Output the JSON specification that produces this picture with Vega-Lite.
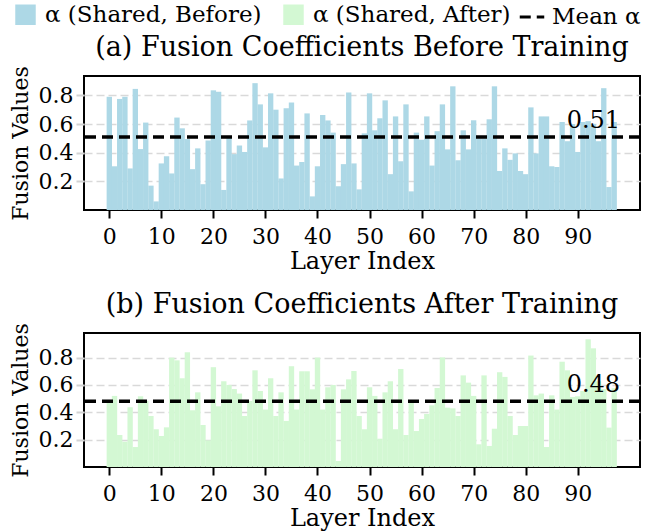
{
  "$schema": "https://vega.github.io/schema/vega-lite/v6.json",
  "padding": {"left": 8, "right": 5, "top": 3, "bottom": 0},
  "background": "white",
  "config": {
    "font": "DejaVu Serif",
    "view": {"stroke": "black", "strokeWidth": 2},
    "axis": {"labelFont": "DejaVu Serif", "titleFont": "DejaVu Serif", "labelFontSize": 22, "titleFontSize": 22, "titleFontWeight": "normal", "labelColor": "black", "titleColor": "black", "domain": false, "tickColor": "black", "tickWidth": 2, "tickSize": 8},
    "axisY": {"gridDash": [8, 4], "gridColor": "#d9d9d9", "gridWidth": 1.5, "tickColor": "#d3d3d3", "labelPadding": 3, "titlePadding": 6},
    "axisX": {"grid": false, "labelPadding": 8, "titlePadding": 2, "titleFontSize": 24},
    "title": {"font": "DejaVu Serif", "fontSize": 27, "fontWeight": "normal", "color": "black", "offset": 4},
    "legend": {"labelFont": "DejaVu Serif", "labelFontSize": 23, "labelColor": "black", "direction": "horizontal", "columnPadding": 20, "labelOffset": 8, "labelLimit": 400}
  },
  "datasets": {
    "before": [{"layer":0,"alpha":0.79},{"layer":1,"alpha":0.305},{"layer":2,"alpha":0.775},{"layer":3,"alpha":0.79},{"layer":4,"alpha":0.29},{"layer":5,"alpha":0.845},{"layer":6,"alpha":0.425},{"layer":7,"alpha":0.61},{"layer":8,"alpha":0.17},{"layer":9,"alpha":0.06},{"layer":10,"alpha":0.325},{"layer":11,"alpha":0.375},{"layer":12,"alpha":0.255},{"layer":13,"alpha":0.645},{"layer":14,"alpha":0.57},{"layer":15,"alpha":0.495},{"layer":16,"alpha":0.285},{"layer":17,"alpha":0.43},{"layer":18,"alpha":0.18},{"layer":19,"alpha":0.485},{"layer":20,"alpha":0.835},{"layer":21,"alpha":0.825},{"layer":22,"alpha":0.14},{"layer":23,"alpha":0.51},{"layer":24,"alpha":0.39},{"layer":25,"alpha":0.45},{"layer":26,"alpha":0.405},{"layer":27,"alpha":0.625},{"layer":28,"alpha":0.885},{"layer":29,"alpha":0.737},{"layer":30,"alpha":0.437},{"layer":31,"alpha":0.814},{"layer":32,"alpha":0.7},{"layer":33,"alpha":0.22},{"layer":34,"alpha":0.71},{"layer":35,"alpha":0.75},{"layer":36,"alpha":0.31},{"layer":37,"alpha":0.335},{"layer":38,"alpha":0.674},{"layer":39,"alpha":0.095},{"layer":40,"alpha":0.305},{"layer":41,"alpha":0.663},{"layer":42,"alpha":0.625},{"layer":43,"alpha":0.54},{"layer":44,"alpha":0.165},{"layer":45,"alpha":0.32},{"layer":46,"alpha":0.82},{"layer":47,"alpha":0.325},{"layer":48,"alpha":0.144},{"layer":49,"alpha":0.535},{"layer":50,"alpha":0.814},{"layer":51,"alpha":0.556},{"layer":52,"alpha":0.64},{"layer":53,"alpha":0.765},{"layer":54,"alpha":0.25},{"layer":55,"alpha":0.653},{"layer":56,"alpha":0.34},{"layer":57,"alpha":0.737},{"layer":58,"alpha":0.13},{"layer":59,"alpha":0.54},{"layer":60,"alpha":0.49},{"layer":61,"alpha":0.653},{"layer":62,"alpha":0.31},{"layer":63,"alpha":0.55},{"layer":64,"alpha":0.737},{"layer":65,"alpha":0.423},{"layer":66,"alpha":0.863},{"layer":67,"alpha":0.347},{"layer":68,"alpha":0.556},{"layer":69,"alpha":0.423},{"layer":70,"alpha":0.626},{"layer":71,"alpha":0.5},{"layer":72,"alpha":0.5},{"layer":73,"alpha":0.633},{"layer":74,"alpha":0.863},{"layer":75,"alpha":0.272},{"layer":76,"alpha":0.43},{"layer":77,"alpha":0.35},{"layer":78,"alpha":0.395},{"layer":79,"alpha":0.272},{"layer":80,"alpha":0.25},{"layer":81,"alpha":0.716},{"layer":82,"alpha":0.395},{"layer":83,"alpha":0.653},{"layer":84,"alpha":0.653},{"layer":85,"alpha":0.305},{"layer":86,"alpha":0.3},{"layer":87,"alpha":0.614},{"layer":88,"alpha":0.48},{"layer":89,"alpha":0.6},{"layer":90,"alpha":0.405},{"layer":91,"alpha":0.614},{"layer":92,"alpha":0.62},{"layer":93,"alpha":0.6},{"layer":94,"alpha":0.48},{"layer":95,"alpha":0.85},{"layer":96,"alpha":0.16},{"layer":97,"alpha":0.614}],
    "after": [{"layer":0,"alpha":0.49},{"layer":1,"alpha":0.52},{"layer":2,"alpha":0.234},{"layer":3,"alpha":0.185},{"layer":4,"alpha":0.437},{"layer":5,"alpha":0.146},{"layer":6,"alpha":0.517},{"layer":7,"alpha":0.483},{"layer":8,"alpha":0.373},{"layer":9,"alpha":0.276},{"layer":10,"alpha":0.227},{"layer":11,"alpha":0.29},{"layer":12,"alpha":0.8},{"layer":13,"alpha":0.78},{"layer":14,"alpha":0.649},{"layer":15,"alpha":0.839},{"layer":16,"alpha":0.415},{"layer":17,"alpha":0.546},{"layer":18,"alpha":0.307},{"layer":19,"alpha":0.195},{"layer":20,"alpha":0.73},{"layer":21,"alpha":0.444},{"layer":22,"alpha":0.627},{"layer":23,"alpha":0.6},{"layer":24,"alpha":0.57},{"layer":25,"alpha":0.537},{"layer":26,"alpha":0.373},{"layer":27,"alpha":0.483},{"layer":28,"alpha":0.707},{"layer":29,"alpha":0.556},{"layer":30,"alpha":0.42},{"layer":31,"alpha":0.649},{"layer":32,"alpha":0.373},{"layer":33,"alpha":0.546},{"layer":34,"alpha":0.337},{"layer":35,"alpha":0.737},{"layer":36,"alpha":0.42},{"layer":37,"alpha":0.7},{"layer":38,"alpha":0.7},{"layer":39,"alpha":0.568},{"layer":40,"alpha":0.8},{"layer":41,"alpha":0.42},{"layer":42,"alpha":0.583},{"layer":43,"alpha":0.6},{"layer":44,"alpha":0.044},{"layer":45,"alpha":0.568},{"layer":46,"alpha":0.641},{"layer":47,"alpha":0.702},{"layer":48,"alpha":0.373},{"layer":49,"alpha":0.276},{"layer":50,"alpha":0.583},{"layer":51,"alpha":0.52},{"layer":52,"alpha":0.207},{"layer":53,"alpha":0.546},{"layer":54,"alpha":0.627},{"layer":55,"alpha":0.276},{"layer":56,"alpha":0.717},{"layer":57,"alpha":0.234},{"layer":58,"alpha":0.473},{"layer":59,"alpha":0.263},{"layer":60,"alpha":0.351},{"layer":61,"alpha":0.388},{"layer":62,"alpha":0.451},{"layer":63,"alpha":0.578},{"layer":64,"alpha":0.802},{"layer":65,"alpha":0.434},{"layer":66,"alpha":0.429},{"layer":67,"alpha":0.373},{"layer":68,"alpha":0.67},{"layer":69,"alpha":0.617},{"layer":70,"alpha":0.52},{"layer":71,"alpha":0.166},{"layer":72,"alpha":0.67},{"layer":73,"alpha":0.154},{"layer":74,"alpha":0.28},{"layer":75,"alpha":0.693},{"layer":76,"alpha":0.659},{"layer":77,"alpha":0.373},{"layer":78,"alpha":0.234},{"layer":79,"alpha":0.3},{"layer":80,"alpha":0.3},{"layer":81,"alpha":0.815},{"layer":82,"alpha":0.524},{"layer":83,"alpha":0.537},{"layer":84,"alpha":0.146},{"layer":85,"alpha":0.524},{"layer":86,"alpha":0.42},{"layer":87,"alpha":0.77},{"layer":88,"alpha":0.707},{"layer":89,"alpha":0.512},{"layer":90,"alpha":0.517},{"layer":91,"alpha":0.556},{"layer":92,"alpha":0.934},{"layer":93,"alpha":0.868},{"layer":94,"alpha":0.627},{"layer":95,"alpha":0.57},{"layer":96,"alpha":0.288},{"layer":97,"alpha":0.576}],
    "means": [{"panel": "a", "mean": 0.51, "label": "Mean α"}, {"panel": "b", "mean": 0.48, "label": "Mean α"}]
  },
  "spacing": 15,
  "vconcat": [
    {
      "width": 556, "height": 134,
      "title": {"text": "(a) Fusion Coefficients Before Training"},
      "layer": [
        {
          "data": {"name": "before"},
          "mark": {"type": "bar", "size": 5.35},
          "encoding": {
            "x": {"field": "layer", "type": "quantitative", "scale": {"domain": [-3.9, 101], "nice": false, "zero": false}, "axis": {"values": [0,10,20,30,40,50,60,70,80,90], "title": "Layer Index"}},
            "y": {"field": "alpha", "type": "quantitative", "scale": {"domain": [0, 0.935], "nice": false}, "axis": {"values": [0.2,0.4,0.6,0.8], "format": ".1f", "title": "Fusion Values"}},
            "color": {"datum": "α (Shared, Before)", "type": "nominal", "scale": {"domain": ["α (Shared, Before)", "α (Shared, After)"], "range": ["#add8e6", "#d3f8d3"]}, "legend": {"title": null, "orient": "none", "legendX": -70, "legendY": -73, "symbolType": "square", "symbolSize": 420, "symbolStrokeWidth": 0}}
          }
        },
        {
          "data": {"name": "means"},
          "transform": [{"filter": "datum.panel === 'a'"}],
          "mark": {"type": "rule", "strokeWidth": 3.5, "color": "black"},
          "encoding": {
            "y": {"field": "mean", "type": "quantitative"},
            "strokeDash": {"field": "label", "type": "nominal", "scale": {"range": [[11, 6]]}, "legend": {"title": null, "orient": "none", "legendX": 434, "legendY": -73, "symbolType": "stroke", "symbolStrokeWidth": 3, "symbolSize": 600, "symbolStrokeColor": "black", "labelOffset": 6, "encode": {"symbols": {"update": {"strokeDash": {"value": [5, 3]}}}}}}
          }
        },
        {
          "data": {"name": "means"},
          "transform": [{"filter": "datum.panel === 'a'"}],
          "mark": {"type": "text", "fontSize": 24, "font": "DejaVu Serif", "baseline": "alphabetic", "align": "center", "dy": -9, "color": "black"},
          "encoding": {
            "x": {"datum": 93},
            "y": {"field": "mean", "type": "quantitative"},
            "text": {"field": "mean", "type": "quantitative", "format": ".2f"}
          }
        }
      ]
    },
    {
      "width": 556, "height": 134,
      "title": {"text": "(b) Fusion Coefficients After Training"},
      "layer": [
        {
          "data": {"name": "after"},
          "mark": {"type": "bar", "size": 5.35},
          "encoding": {
            "x": {"field": "layer", "type": "quantitative", "scale": {"domain": [-3.9, 101], "nice": false, "zero": false}, "axis": {"values": [0,10,20,30,40,50,60,70,80,90], "title": "Layer Index"}},
            "y": {"field": "alpha", "type": "quantitative", "scale": {"domain": [0, 0.98], "nice": false}, "axis": {"values": [0.2,0.4,0.6,0.8], "format": ".1f", "title": "Fusion Values"}},
            "color": {"datum": "α (Shared, After)", "type": "nominal", "scale": {"domain": ["α (Shared, Before)", "α (Shared, After)"], "range": ["#add8e6", "#d3f8d3"]}, "legend": {"title": null, "orient": "none", "legendX": -70, "legendY": -73, "symbolType": "square", "symbolSize": 420, "symbolStrokeWidth": 0}}
          }
        },
        {
          "data": {"name": "means"},
          "transform": [{"filter": "datum.panel === 'b'"}],
          "mark": {"type": "rule", "strokeWidth": 3.5, "color": "black"},
          "encoding": {
            "y": {"field": "mean", "type": "quantitative"},
            "strokeDash": {"field": "label", "type": "nominal", "scale": {"range": [[11, 6]]}, "legend": {"title": null, "orient": "none", "legendX": 434, "legendY": -73, "symbolType": "stroke", "symbolStrokeWidth": 3, "symbolSize": 600, "symbolStrokeColor": "black", "labelOffset": 6, "encode": {"symbols": {"update": {"strokeDash": {"value": [5, 3]}}}}}}
          }
        },
        {
          "data": {"name": "means"},
          "transform": [{"filter": "datum.panel === 'b'"}],
          "mark": {"type": "text", "fontSize": 24, "font": "DejaVu Serif", "baseline": "alphabetic", "align": "center", "dy": -9, "color": "black"},
          "encoding": {
            "x": {"datum": 93},
            "y": {"field": "mean", "type": "quantitative"},
            "text": {"field": "mean", "type": "quantitative", "format": ".2f"}
          }
        }
      ]
    }
  ]
}
